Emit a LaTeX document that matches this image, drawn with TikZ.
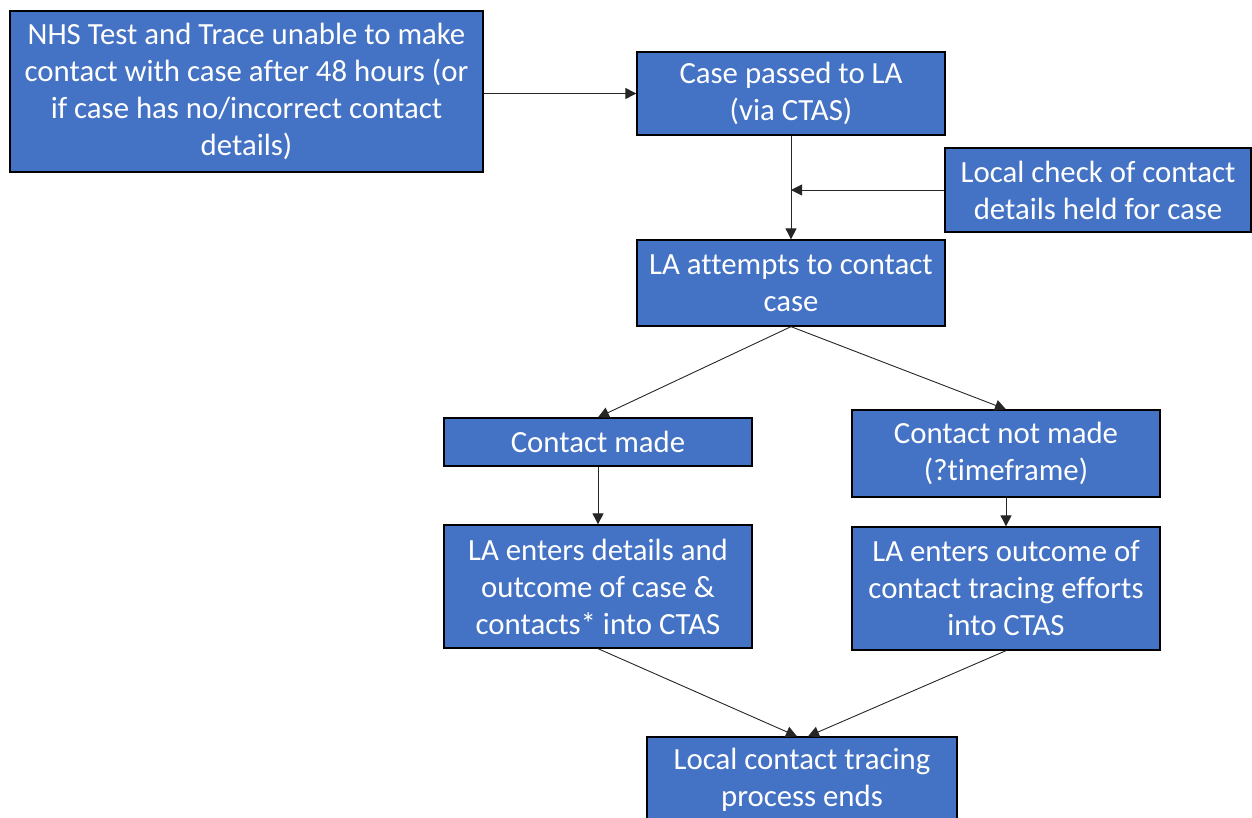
\documentclass[tikz,border=0pt]{standalone}
\usepackage{fontspec}
\setmainfont{Carlito}[Ligatures=CommonOff]
\usetikzlibrary{arrows.meta}
\definecolor{boxblue}{HTML}{4472C4}
\tikzset{
  box/.style={draw=black, line width=1.3pt, fill=boxblue, text=white, align=center,
    inner sep=0pt, font=\fontsize{30.8}{37}\selectfont},
  conn/.style={draw=black!85, line width=0.9pt, -{Triangle[length=11pt,width=11pt]}}
}
\begin{document}
\begin{tikzpicture}[x=1pt,y=-1pt]
\useasboundingbox (0,0) rectangle (1252,817);
\node[box, minimum width=473, minimum height=161] (n1) at (246.5,91.5)
  {NHS Test and Trace unable to make\\contact with case after 48 hours (or\\if case has no/incorrect contact\\details)};
\node[box, minimum width=308, minimum height=83] (n2) at (791,93.5)
  {Case passed to LA\\(via CTAS)};
\node[box, minimum width=306, minimum height=84] (n3) at (1098,190)
  {Local check of contact\\details held for case};
\node[box, minimum width=308, minimum height=86] (n4) at (791,283)
  {LA attempts to contact\\case};
\node[box, minimum width=308, minimum height=48] (n5) at (598,442)
  {Contact made};
\node[box, minimum width=308, minimum height=87] (n6) at (1006,453.5)
  {Contact not made\\(?timeframe)};
\node[box, minimum width=308, minimum height=123] (n7) at (598,586.5)
  {LA enters details and\\outcome of case \&\\contacts* into CTAS};
\node[box, minimum width=308, minimum height=123] (n8) at (1006,588.5)
  {LA enters outcome of\\contact tracing efforts\\into CTAS};
\node[box, minimum width=310, minimum height=86] (n9) at (802,780)
  {Local contact tracing\\process ends};
\draw[conn] (n1.east |- n2.west) -- (n2.west);
\draw[conn] (n2.south) -- (n4.north);
\draw[conn] (n3.west) -- (n2.south |- n3.west);
\draw[conn] (n4.south) -- (n5.north);
\draw[conn] (n4.south) -- (n6.north);
\draw[conn] (n5.south) -- (n7.north);
\draw[conn] (n6.south) -- (n8.north);
\draw[conn] (n7.south) -- ([xshift=-5]n9.north);
\draw[conn] (n8.south) -- ([xshift=6]n9.north);
\end{tikzpicture}
\end{document}
